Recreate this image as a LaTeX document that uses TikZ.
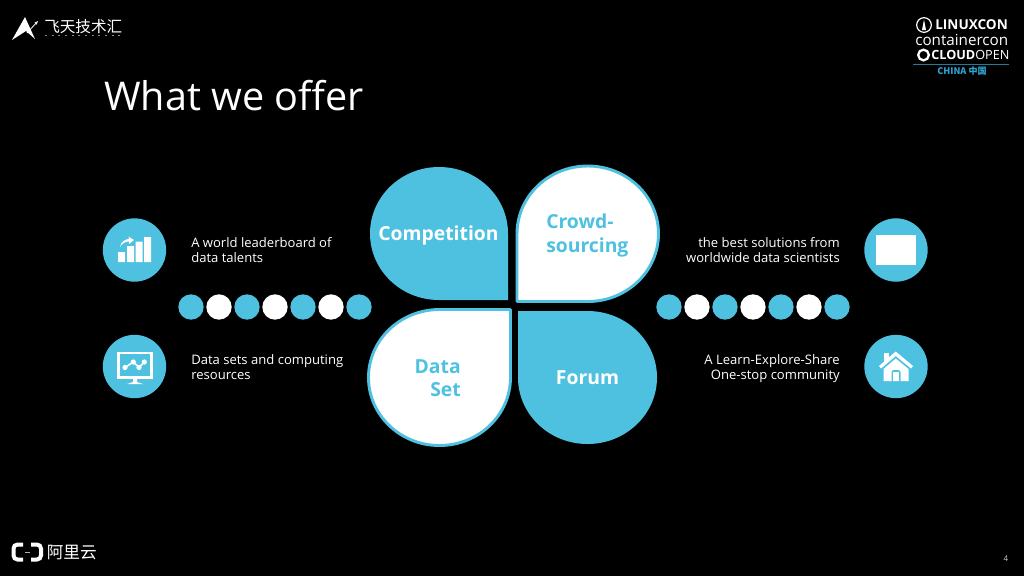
\documentclass[tikz,border=0pt]{standalone}
\usepackage{fontspec}
\setmainfont{Open Sans}
\newfontfamily\cjk{Noto Sans CJK SC}
\usetikzlibrary{arrows.meta,positioning}
\definecolor{petalblue}{HTML}{4FC1E0}
\definecolor{chinablue}{HTML}{2FA3CF}
\tikzset{
  petalsolid/.style ={fill=petalblue},
  petalwhite/.style ={fill=white,draw=petalblue,line width=2.2pt,line join=round},
  petaltext/.style  ={font=\fontsize{14.5}{17.3}\selectfont\bfseries,inner sep=0pt},
  sidetext/.style   ={font=\fontsize{9.8}{11.25}\selectfont,text=white,inner sep=0pt},
  badge/.style      ={circle,fill=petalblue,minimum size=47.5pt,inner sep=0pt},
  bead/.style       ={circle,minimum size=19pt,inner sep=0pt},
  icon/.style       ={fill=white,draw=none},
  logotext/.style   ={text=white,inner sep=0pt},
}
\begin{document}
\begin{tikzpicture}[x=.75pt,y=-.75pt]
\useasboundingbox (0,0) rectangle (1024,576);
\fill[black] (0,0) rectangle (1024,576);
% petals
\path[petalsolid] (508,300) -- (439,300) arc[start angle=90,delta angle=270,x radius=69,y radius=66.5] -- cycle;
\path[petalwhite] (517,301.5) -- (517,233.75) arc[start angle=180,delta angle=270,x radius=70.75,y radius=67.75] -- cycle;
\path[petalwhite] (510.5,309.5) -- (510.5,377.5) arc[start angle=0,delta angle=270,x radius=71,y radius=68] -- cycle;
\path[petalsolid] (518,311) -- (587.5,311) arc[start angle=270,delta angle=270,x radius=69.5,y radius=66.5] -- cycle;
\node[petaltext,text=white] (competition) at (438.5,235.5) {Competition};
\node[petaltext,text=petalblue,align=left,anchor=west] (crowd) at (546,235.5) {Crowd-\\sourcing};
\node[petaltext,text=petalblue,align=right,anchor=east] (dataset) at (461,378.5) {Data\\Set};
\node[petaltext,text=white] (forum) at (587.5,378) {Forum};
% beads
\foreach \i/\c in {0/petalblue,1/white,2/petalblue,3/white,4/petalblue,5/white,6/petalblue}{
  \node[bead,fill=\c] (beadL\i) at (191+28*\i,307) {};
  \node[bead,fill=\c] (beadR\i) at (669+28*\i,307) {};
}
% side badges and texts
\node[badge] (chart) at (134.5,250) {};
\node[badge] (screen) at (134.5,366.5) {};
\node[badge] (photo) at (896,250) {};
\node[badge] (home) at (896,366.5) {};
\node[sidetext,align=left,anchor=west] (talents) at (191,250) {A world leaderboard of\\data talents};
\node[sidetext,align=left,anchor=west] (resources) at (191,367) {Data sets and computing\\resources};
\node[sidetext,align=right,anchor=east] (solutions) at (840,250) {the best solutions from\\worldwide data scientists};
\node[sidetext,align=right,anchor=east] (community) at (840,369) {A Learn-Explore-Share\\One-stop community};
% chart icon
\fill[icon] (118,252) rectangle (125,262) (127,246) rectangle (134,262) (135.5,241.5) rectangle (142.5,262) (144,237) rectangle (151,262);
\fill[icon] (120,247) .. controls (121,241) and (126,239) .. (129,239) -- (128.5,236.5) -- (134,240) -- (129,244) -- (129,241.5) .. controls (126,241.5) and (122,243) .. (120,247) -- cycle;
% screen icon
\draw[white,line width=1.6pt] (118.5,353) rectangle (151.5,377.5);
\fill[icon] (133,378) -- (137,378) -- (137,382) -- (143,384) -- (127,384) -- (133,382) -- cycle;
\draw[white,line width=1.2pt] (125,367.5) -- (133.3,362) -- (139,367.5) -- (144.3,362);
\foreach \p in {(125,367.5),(133.3,362),(139,367.5),(144.3,362)} \fill[icon] \p circle (2.6);
% photo icon
\fill[icon] (876,235) rectangle (916,265);
% house icon
\fill[icon] (884,353) rectangle (888.5,362);
\fill[icon] (879,366) -- (895.7,351.5) -- (913,366) -- (911,368.5) -- (895.7,356) -- (881,368.5) -- cycle;
\fill[icon] (883.5,369) -- (895.7,358.5) -- (908.5,369) -- (908.5,381) -- (883.5,381) -- cycle;
\fill[petalblue] (891.5,381) -- (891.5,372) -- (893,370) -- (899,370) -- (900.5,372) -- (900.5,381) -- cycle;
\fill[icon] (893.2,381) rectangle (898.8,372);
% event logo, top left
\fill[icon] (12,40) -- (25,17) -- (35,39) -- (26,31) -- cycle;
\draw[white,line width=.6pt,-{Stealth[length=3pt]}] (27,33) -- (38,21);
\node[logotext,font=\cjk\fontsize{11.7}{11.7}\selectfont,anchor=west] (tianlogo) at (44,27) {飞天技术汇};
\draw[white!55!black,line width=.7pt,dash pattern=on 1.5pt off 3.5pt] (45,35.5) -- (122,35.5);
% event logos, top right
\node[circle,draw=white,line width=.9pt,minimum size=11pt,inner sep=0pt] (linuxmark) at (924,25) {};
\fill[icon] (924,19.5) -- (926,30) -- (922,30) -- cycle;
\node[logotext,font=\fontsize{10.2}{10.2}\selectfont\bfseries,anchor=west] (linuxcon) at (935,25) {LINUXCON};
\node[logotext,font=\fontsize{11.4}{11.4}\selectfont,anchor=west] (containercon) at (915,40) {containercon};
\node[circle,draw=white,line width=1.7pt,minimum size=8pt,inner sep=0pt] (cloudmark) at (923.5,55) {};
\node[logotext,font=\fontsize{9.5}{9.5}\selectfont,anchor=west] (cloudopen) at (931,55) {\textbf{CLOUD}OPEN};
\draw[chinablue!75!black,line width=.6pt] (913,64.5) -- (1009,64.5);
\node[logotext,text=chinablue,font=\cjk\fontsize{6.8}{6.8}\selectfont\bfseries] (china) at (962,71.5) {CHINA 中国};
% cloud logo, bottom left
\draw[white,line width=3pt,rounded corners=3pt] (23,544.5) -- (13.5,544.5) -- (13.5,559.5) -- (23,559.5);
\draw[white,line width=3pt,rounded corners=3pt] (31,544.5) -- (41,544.5) -- (41,559.5) -- (31,559.5);
\draw[white!70!black,line width=.7pt] (25,552) -- (29.5,552);
\node[logotext,font=\cjk\fontsize{12.5}{12.5}\selectfont,anchor=west] (aliyun) at (46.5,552.5) {阿里云};
% title, page number
\node[logotext,font=\fontsize{29.65}{30}\selectfont,anchor=base west] (title) at (104,110) {What we offer};
\node[inner sep=0pt,text=white!80!black,font=\fontsize{6}{6}\selectfont] (pagenum) at (1006,559) {4};
\end{tikzpicture}
\end{document}
